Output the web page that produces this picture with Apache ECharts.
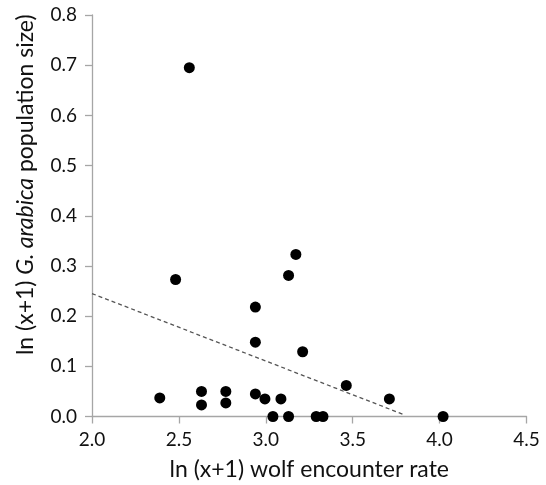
<!DOCTYPE html>
<html><head><meta charset="utf-8">
<script src="https://cdn.jsdelivr.net/npm/echarts@6/dist/echarts.min.js"></script>
<style>html,body{margin:0;padding:0;background:#fff}#c{width:546px;height:485px}</style>
</head><body><div id="c"></div>
<script>
var wolfRate = [2.39, 2.63, 2.63, 2.77, 2.77, 2.94, 2.995, 3.087, 3.041, 3.131, 3.29, 3.329, 2.481, 2.94, 2.94, 3.131, 3.173, 3.212, 3.463, 3.711, 4.02, 2.56];
var popSize  = [0.037, 0.050, 0.023, 0.050, 0.027, 0.045, 0.035, 0.035, 0.0, 0.0, 0.0, 0.0, 0.273, 0.218, 0.148, 0.281, 0.323, 0.129, 0.062, 0.035, 0.0, 0.695];
var trendX = [2.0, 3.8];
var trendY = [0.245, 0.003];
var xTicks = [2.0, 2.5, 3.0, 3.5, 4.0, 4.5];
var yTicks = [0.0, 0.1, 0.2, 0.3, 0.4, 0.5, 0.6, 0.7, 0.8];

var chart = echarts.init(document.getElementById('c'), null, {renderer: 'canvas'});
var font = 'Lato, "Open Sans", sans-serif';
chart.setOption({
  animation: false,
  grid: {left: 92, right: 19.5, top: 15, bottom: 68.5, containLabel: false, outerBoundsMode: 'none'},
  xAxis: {
    type: 'value', min: xTicks[0], max: xTicks[xTicks.length-1], interval: 0.5,
    axisLine: {show: true, lineStyle: {color: '#a6a6a6', width: 1.3}},
    axisTick: {show: true, length: 7, lineStyle: {color: '#a6a6a6', width: 1.3}},
    splitLine: {show: false},
    axisLabel: {color: '#111', fontSize: 19, fontFamily: font, margin: 14, formatter: function(v){return v.toFixed(1);}},
    name: 'ln (x+1) wolf encounter rate', nameLocation: 'middle', nameGap: 42,
    nameTextStyle: {color: '#111', fontSize: 23, fontFamily: font}
  },
  yAxis: {
    type: 'value', min: yTicks[0], max: yTicks[yTicks.length-1], interval: 0.1,
    axisLine: {show: true, lineStyle: {color: '#a6a6a6', width: 1.3}},
    axisTick: {show: true, length: 7, lineStyle: {color: '#a6a6a6', width: 1.3}},
    splitLine: {show: false},
    axisLabel: {color: '#111', fontSize: 19, fontFamily: font, margin: 15, formatter: function(v){return v.toFixed(1);}},
    name: '{n|ln (x+1) }{i|G. arabica}{n| population size)}', nameLocation: 'middle', nameGap: 55,
    nameTextStyle: {
      padding: [0, 0, 0, 62],
      rich: {
        n: {color: '#111', fontSize: 23, fontFamily: font},
        i: {color: '#111', fontSize: 23, fontFamily: font, fontStyle: 'italic'}
      }
    }
  },
  series: [
    {
      type: 'line', data: trendX.map(function(x, i){return [x, trendY[i]];}),
      showSymbol: false, symbol: 'none',
      lineStyle: {color: '#555', width: 1.3, type: [4, 3]}, z: 1
    },
    {
      type: 'scatter', data: wolfRate.map(function(x, i){return [x, popSize[i]];}),
      symbol: 'circle', symbolSize: 11,
      itemStyle: {color: '#000', opacity: 1}, z: 3
    }
  ]
});
</script></body></html>
